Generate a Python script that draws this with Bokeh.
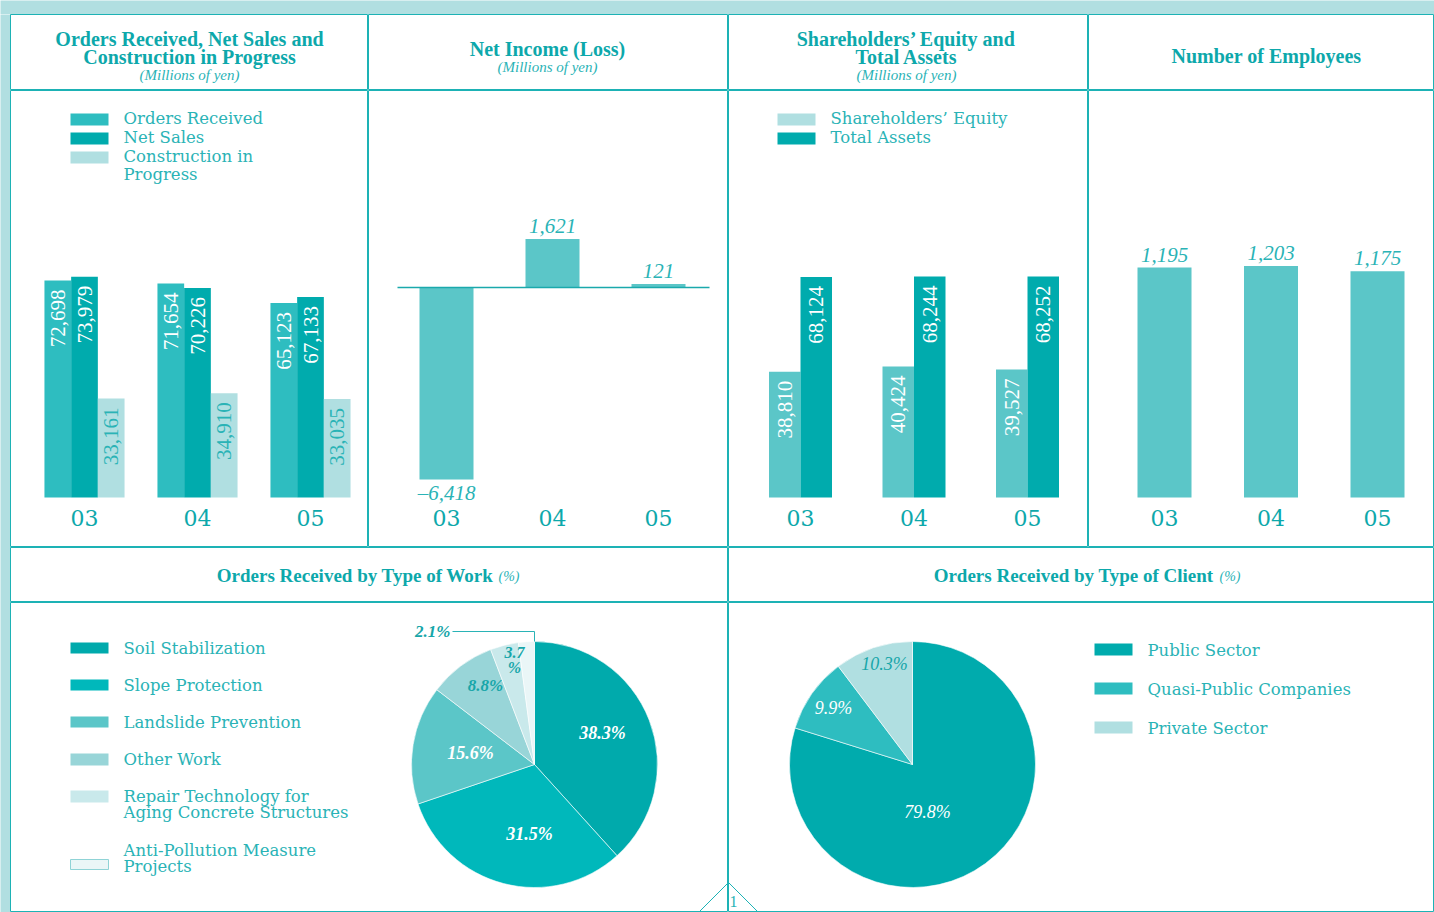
import math
from bokeh.plotting import figure
from bokeh.layouts import column, row
from bokeh.models import Range1d, ColumnDataSource
from bokeh.core.properties import value
from bokeh.transform import dodge
from bokeh.embed import file_html
from bokeh.resources import INLINE

# ---------------- data ----------------
years = ["03", "04", "05"]
orders_received = [72698, 71654, 65123]
net_sales = [73979, 70226, 67133]
construction_in_progress = [33161, 34910, 33035]
net_income = [-6418, 1621, 121]
shareholders_equity = [38810, 40424, 39527]
total_assets = [68124, 68244, 68252]
employees = [1195, 1203, 1175]
work_types = ["Soil Stabilization", "Slope Protection", "Landslide Prevention", "Other Work",
              "Repair Technology for\nAging Concrete Structures", "Anti-Pollution Measure\nProjects"]
work_share = [38.3, 31.5, 15.6, 8.8, 3.7, 2.1]
client_types = ["Public Sector", "Quasi-Public Companies", "Private Sector"]
client_share = [79.8, 9.9, 10.3]

# ---------------- style ----------------
BAND = "#b1dfe1"
RULE = "#1db2b5"
HEAD = "#0da8ab"
SOFT = "#2ab3b6"
C_DARK = "#00abad"
C_MED = "#2ebdc0"
C_SOFT = "#5bc6c8"
C_LIGHT = "#b0dfe1"
work_colors = ["#00aaac", "#00b8bb", "#5bc6c8", "#98d5d8", "#c9e9eb", "#eaf6f7"]
client_colors = ["#00abad", "#2ebdc0", "#b0dfe1"]
SERIF = value("Liberation Serif")
WIDE = value("DejaVu Serif")
LEG_SIZE = 16.5


def fmt(v):
    s = f"{abs(v):,}"
    return ("\u2013" + s) if v < 0 else s


def band(w, h):
    p = figure(width=w, height=h, x_range=Range1d(0, 1), y_range=Range1d(0, 1),
               title=None, tools="", toolbar_location=None, output_backend="svg",
               x_axis_location=None, y_axis_location=None, min_border=0)
    p.grid.visible = False
    p.outline_line_color = None
    p.background_fill_color = BAND
    p.border_fill_color = BAND
    return p


class Cell:
    def __init__(self, x0, y0, w, h, xr=None, yr=None):
        self.x0, self.y0, self.w, self.h = x0, y0, w, h
        if xr is None:
            xr = (x0, x0 + w)
        if yr is None:
            yr = (-(y0 + h), -y0)
        self.xs, self.xe = xr
        self.ys, self.ye = yr
        p = figure(width=w, height=h, x_range=Range1d(*xr), y_range=Range1d(*yr),
                   title=None, tools="", toolbar_location=None, output_backend="svg",
                   x_axis_location=None, y_axis_location=None, min_border=0)
        p.grid.visible = False
        p.outline_line_color = RULE
        p.outline_line_width = 1
        p.border_fill_color = "white"
        p.background_fill_color = "white"
        self.p = p

    def X(self, px):
        return self.xs + (px - self.x0) * (self.xe - self.xs) / self.w

    def Y(self, py):
        return self.ye - (py - self.y0) * (self.ye - self.ys) / self.h


def txt(c, px, py, s, size, font=SERIF, style="normal", color=HEAD, align="center", baseline="middle"):
    c.p.text(x=[c.X(px)], y=[c.Y(py)], text=[s], text_font=font, text_font_size=f"{size}px",
             text_font_style=style, text_color=color, text_align=align, text_baseline=baseline)


def swatch(c, x1, x2, y1, y2, color, line=None):
    c.p.quad(left=[c.X(x1)], right=[c.X(x2)], top=[c.Y(y1)], bottom=[c.Y(y2)],
             fill_color=color, line_color=line, line_width=1)


def legend(c, x1, x2, tx, entries):
    # entries: (swatch_top, swatch_bottom, color, line, [(text_y, line_text), ...])
    for y1, y2, col, ln, lines in entries:
        swatch(c, x1, x2, y1, y2, col, ln)
        for ty, s in lines:
            txt(c, tx, ty, s, LEG_SIZE, font=WIDE, color=SOFT, align="left")


def bar_cell(x0, w, base, ppu, gap, cx):
    xr = (-(cx - x0) / gap, (x0 + w - cx) / gap)
    yr = (-(547 - base) / ppu, (base - 90) / ppu)
    return Cell(x0, 90, w, 457, xr=xr, yr=yr)


def cat_labels(c, src):
    c.p.text(x="x", y=c.Y(517), text="year", source=src, text_font=WIDE, text_font_size="22px",
             text_color=HEAD, text_align="center", text_baseline="middle")


# ---------------- title row ----------------
T0 = Cell(10, 14, 358, 76)
txt(T0, 189, 38, "Orders Received, Net Sales and", 20, style="bold")
txt(T0, 189, 56, "Construction in Progress", 20, style="bold")
txt(T0, 189, 74, "(Millions of yen)", 15, style="italic", color=SOFT)

T1 = Cell(368, 14, 360, 76)
txt(T1, 547, 48, "Net Income (Loss)", 20, style="bold")
txt(T1, 547, 66, "(Millions of yen)", 15, style="italic", color=SOFT)

T2 = Cell(728, 14, 360, 76)
txt(T2, 906, 38, "Shareholders\u2019 Equity and", 20, style="bold")
txt(T2, 906, 56, "Total Assets", 20, style="bold")
txt(T2, 906, 74, "(Millions of yen)", 15, style="italic", color=SOFT)

T3 = Cell(1088, 14, 346, 76)
txt(T3, 1266, 55, "Number of Employees", 20, style="bold")

# ---------------- chart 1: orders / sales / CIP ----------------
ppu0 = 217 / 72698
gap0 = 113
C0 = bar_cell(10, 358, 497, ppu0, gap0, 84)
bw0 = 26.7 / gap0
src0 = ColumnDataSource(dict(x=list(range(len(years))), year=years))
series0 = [("orders", orders_received, -bw0, C_MED, "white"),
           ("sales", net_sales, 0, C_DARK, "white"),
           ("cip", construction_in_progress, bw0, C_LIGHT, SOFT)]
for key, vals, off, col, tcol in series0:
    src0.data[key] = vals
    src0.data[key + "_t"] = [fmt(v) for v in vals]
    src0.data[key + "_y"] = [v - 9 / ppu0 for v in vals]
for key, vals, off, col, tcol in series0:
    C0.p.vbar(x=dodge("x", off), top=key, bottom=0, width=bw0, source=src0,
              fill_color=col, line_color=None)
    C0.p.text(x=dodge("x", off), y=key + "_y", text=key + "_t", source=src0, angle=math.pi / 2,
              text_align="right", text_baseline="middle", text_font=SERIF, text_font_size="21px",
              text_color=tcol)
cat_labels(C0, src0)
legend(C0, 70, 108, 123, [
    (113, 125, C_MED, None, [(118, "Orders Received")]),
    (132, 144, C_DARK, None, [(137, "Net Sales")]),
    (151, 163, C_LIGHT, None, [(155.5, "Construction in"), (174, "Progress")]),
])

# ---------------- chart 2: net income ----------------
ppu1 = 192 / 6418
gap1 = 106
C1 = bar_cell(368, 360, 287, ppu1, gap1, 446)
bw1 = 54 / gap1
src1 = ColumnDataSource(dict(x=list(range(len(years))), year=years, v=net_income,
                             t=[fmt(v) for v in net_income],
                             ty=[v + (13 if v >= 0 else -13) / ppu1 for v in net_income]))
C1.p.vbar(x="x", top="v", bottom=0, width=bw1, source=src1, fill_color=C_SOFT, line_color=None)
C1.p.line(x=[-49 / gap1, len(years) - 1 + 51 / gap1], y=[0, 0], line_color="#1aa9ac", line_width=1.5)
C1.p.text(x="x", y="ty", text="t", source=src1, text_align="center", text_baseline="middle",
          text_font=SERIF, text_font_style="italic", text_font_size="21px", text_color=SOFT)
cat_labels(C1, src1)

# ---------------- chart 3: equity / assets ----------------
ppu2 = 0.003238
gap2 = 113.5
C2 = bar_cell(728, 360, 497, ppu2, gap2, 800)
bw2 = 31.5 / gap2
src2 = ColumnDataSource(dict(x=list(range(len(years))), year=years))
series2 = [("eq", shareholders_equity, -bw2 / 2, C_SOFT),
           ("ta", total_assets, bw2 / 2, C_DARK)]
for key, vals, off, col in series2:
    src2.data[key] = vals
    src2.data[key + "_t"] = [fmt(v) for v in vals]
    src2.data[key + "_y"] = [v - 9 / ppu2 for v in vals]
for key, vals, off, col in series2:
    C2.p.vbar(x=dodge("x", off), top=key, bottom=0, width=bw2, source=src2,
              fill_color=col, line_color=None)
    C2.p.text(x=dodge("x", off), y=key + "_y", text=key + "_t", source=src2, angle=math.pi / 2,
              text_align="right", text_baseline="middle", text_font=SERIF, text_font_size="21px",
              text_color="white")
cat_labels(C2, src2)
legend(C2, 777, 815, 830, [
    (113, 125, C_LIGHT, None, [(118, "Shareholders\u2019 Equity")]),
    (132, 144, C_DARK, None, [(137, "Total Assets")]),
])

# ---------------- chart 4: employees ----------------
ppu3 = 230 / 1195
gap3 = 106.5
C3 = bar_cell(1088, 346, 497, ppu3, gap3, 1164)
bw3 = 54 / gap3
src3 = ColumnDataSource(dict(x=list(range(len(years))), year=years, v=employees,
                             t=[fmt(v) for v in employees],
                             ty=[v + 13 / ppu3 for v in employees]))
C3.p.vbar(x="x", top="v", bottom=0, width=bw3, source=src3, fill_color=C_SOFT, line_color=None)
C3.p.text(x="x", y="ty", text="t", source=src3, text_align="center", text_baseline="middle",
          text_font=SERIF, text_font_style="italic", text_font_size="21px", text_color=SOFT)
cat_labels(C3, src3)

# ---------------- lower titles ----------------
B0 = Cell(10, 547, 718, 55)
txt(B0, 493, 575, "Orders Received by Type of Work", 19, style="bold", align="right")
txt(B0, 498, 576, "(%)", 14, style="italic", color=SOFT, align="left")
B1 = Cell(728, 547, 706, 55)
txt(B1, 1213, 575, "Orders Received by Type of Client", 19, style="bold", align="right")
txt(B1, 1219, 576, "(%)", 14, style="italic", color=SOFT, align="left")


def pie(c, cx, cy, r, shares, colors):
    tot = sum(shares)
    starts, ends, acc = [], [], 0.0
    for s in shares:
        starts.append(math.pi / 2 - 2 * math.pi * acc / tot)
        acc += s
        ends.append(math.pi / 2 - 2 * math.pi * acc / tot)
    src = ColumnDataSource(dict(s=starts, e=ends, c=colors, share=shares))
    c.p.wedge(x=c.X(cx), y=c.Y(cy), radius=r, start_angle="s", end_angle="e", direction="clock",
              fill_color="c", line_color="white", line_width=0.6, source=src)


# ---------------- pie 1: type of work ----------------
P0 = Cell(10, 602, 718, 310)
pcx0, pcy0, pr = 534, 764, 123
pie(P0, pcx0, pcy0, pr, work_share, work_colors)
work_label_pos = [(68, -32, "white", 18), (-5, 69, "white", 18), (-64, -12, "white", 18),
                  (-49, -79, "#17a6a9", 17)]
for (dx, dy, col, sz), s in zip(work_label_pos, work_share):
    txt(P0, pcx0 + dx, pcy0 + dy, f"{s}%", sz, style="bold italic", color=col)
txt(P0, pcx0 - 20, pcy0 - 112, f"{work_share[4]}", 16, style="bold italic", color="#17a6a9")
txt(P0, pcx0 - 20, pcy0 - 97, "%", 16, style="bold italic", color="#17a6a9")
txt(P0, 450, 631, f"{work_share[5]}%", 17, style="bold italic", color="#17a6a9", align="right")
P0.p.line(x=[P0.X(452), P0.X(pcx0), P0.X(pcx0)], y=[P0.Y(631), P0.Y(631), P0.Y(pcy0 - pr)],
          line_color=SOFT, line_width=1)
leg_rows = [(642, 653, [647.5]), (679, 690, [684.5]), (716, 727, [721.5]), (753, 765, [758.5]),
            (790, 802, [795.5, 812]), (859, 869, [849.5, 866])]
entries = []
for i, (y1, y2, tys) in enumerate(leg_rows):
    lines = work_types[i].split("\n")
    entries.append((y1, y2, work_colors[i], "#8fd3d6" if i == 5 else None, list(zip(tys, lines))))
legend(P0, 70, 108, 123, entries)
P0.p.line(x=[P0.X(728), P0.X(698)], y=[P0.Y(882), P0.Y(912)], line_color=RULE, line_width=1)

# ---------------- pie 2: type of client ----------------
P1 = Cell(728, 602, 706, 310)
pcx1, pcy1 = 912, 764
pie(P1, pcx1, pcy1, pr, client_share, client_colors)
client_label_pos = [(15, 47, "white"), (-79, -57, "white"), (-28, -101, "#17a6a9")]
for (dx, dy, col), s in zip(client_label_pos, client_share):
    txt(P1, pcx1 + dx, pcy1 + dy, f"{s}%", 18, style="italic", color=col)
legend(P1, 1094, 1132, 1147, [
    (643, 655, client_colors[0], None, [(649.5, client_types[0])]),
    (682, 694, client_colors[1], None, [(688.5, client_types[1])]),
    (721, 733, client_colors[2], None, [(727.5, client_types[2])]),
])
P1.p.line(x=[P1.X(728), P1.X(758)], y=[P1.Y(882), P1.Y(912)], line_color=RULE, line_width=1)
txt(P1, 733, 901, "1", 16, color=SOFT, align="center", baseline="middle")

panels = column(row(T0.p, T1.p, T2.p, T3.p),
                row(C0.p, C1.p, C2.p, C3.p),
                row(B0.p, B1.p),
                row(P0.p, P1.p))
layout = column(band(1434, 14), row(band(10, 898), panels))
open("out.html", "w").write(file_html(layout, INLINE, title="Financial Highlights"))
